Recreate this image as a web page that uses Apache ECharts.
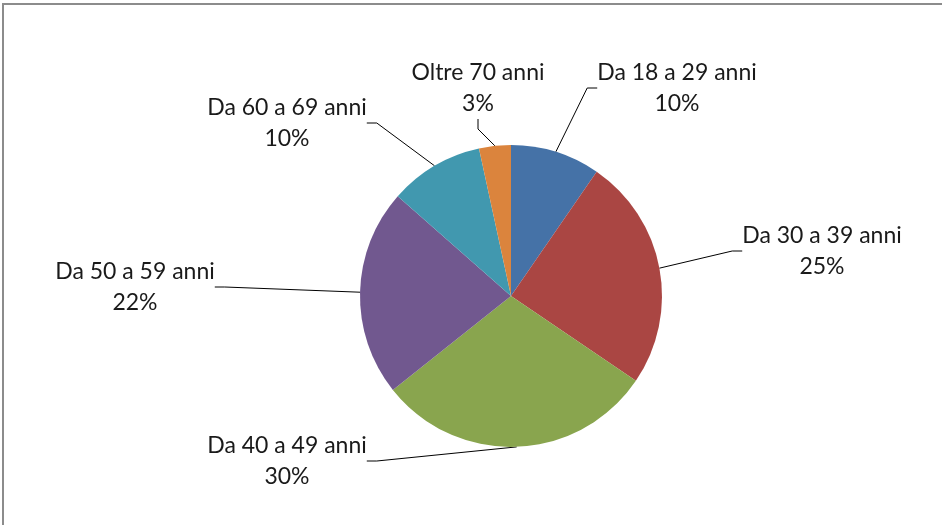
<!DOCTYPE html>
<html><head><meta charset="utf-8">
<script src="https://cdn.jsdelivr.net/npm/echarts@6/dist/echarts.min.js"></script>
<style>html,body{margin:0;padding:0;background:#fff}#c{width:942px;height:525px}</style>
</head><body><div id="c"></div>
<script>
const categories = ['Da 18 a 29 anni','Da 30 a 39 anni','Da 40 a 49 anni','Da 50 a 59 anni','Da 60 a 69 anni','Oltre 70 anni'];
const values = [9.6, 24.9, 29.8, 22.2, 10.1, 3.4];
const pctLabels = ['10%','25%','30%','22%','10%','3%'];
const colors = ['#4572A7','#AA4643','#89A54E','#71588F','#4198AF','#DB843D'];
// label centre positions (layout only)
const labelPos = [[677,88],[822,251],[287,461],[135,287],[287,123],[478,88]];

const chart = echarts.init(document.getElementById('c'));
chart.setOption({
  animation:false,
  graphic:[{type:'rect',shape:{x:3,y:4,width:1000,height:600},style:{fill:'none',stroke:'#8c8c8c',lineWidth:2},z:-1}],
  series:[{
    type:'pie',
    center:[511,296],
    radius:151,
    startAngle:90,
    clockwise:true,
    data:categories.map((n,i)=>({name:n,value:values[i],itemStyle:{color:colors[i]}})),
    itemStyle:{borderWidth:0},
    label:{
      show:true,
      position:'outside',
      formatter:p=>p.name+'\n'+pctLabels[p.dataIndex],
      fontFamily:'Lato',
      fontSize:23,
      lineHeight:31,
      color:'#1a1a1a',
      align:'center'
    },
    labelLine:{show:true,length:20,length2:10,lineStyle:{color:'#000',width:1}},
    labelLayout:function(p){
      const pos = labelPos[p.dataIndex];
      return {x:pos[0],y:pos[1],align:'center',verticalAlign:'middle'};
    }
  }]
});
</script></body></html>
